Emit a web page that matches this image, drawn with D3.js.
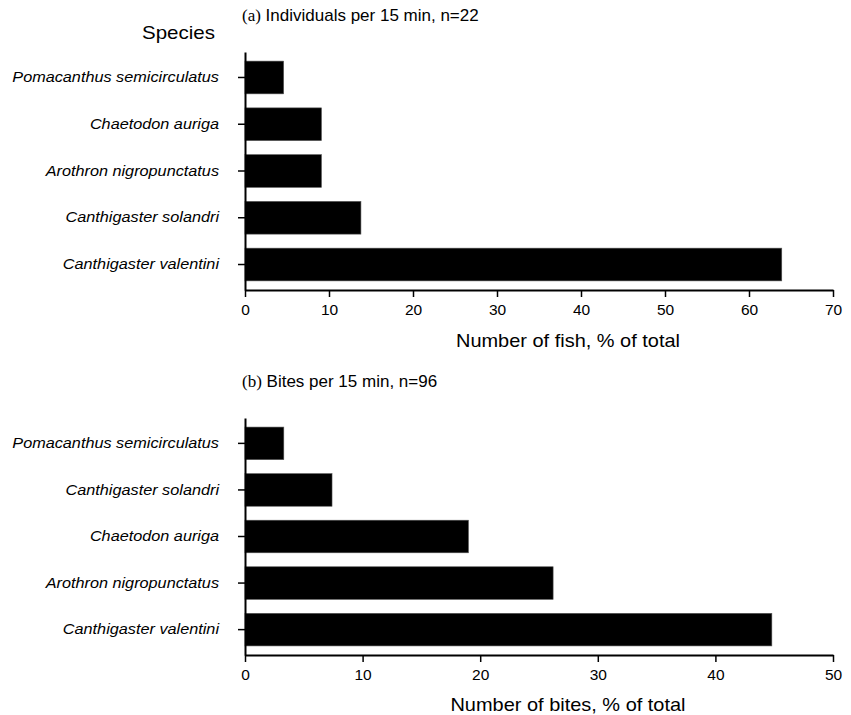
<!DOCTYPE html>
<html>
<head>
<meta charset="utf-8">
<script src="https://cdn.jsdelivr.net/npm/d3@7"></script>
<style>
  html, body { margin: 0; padding: 0; background: #fff; }
  svg { display: block; }
  text { font-family: "Liberation Sans", Arial, sans-serif; fill: #000; }
</style>
</head>
<body>
<svg id="chart" width="851" height="715"></svg>
<script>
// ---- Data ----
const speciesA = ["Pomacanthus semicirculatus", "Chaetodon auriga", "Arothron nigropunctatus", "Canthigaster solandri", "Canthigaster valentini"];
const valuesA = [4.6, 9.1, 9.1, 13.8, 63.9];
const ticksA = [0, 10, 20, 30, 40, 50, 60, 70];

const speciesB = ["Pomacanthus semicirculatus", "Canthigaster solandri", "Chaetodon auriga", "Arothron nigropunctatus", "Canthigaster valentini"];
const valuesB = [3.3, 7.4, 19.0, 26.2, 44.8];
const ticksB = [0, 10, 20, 30, 40, 50];

const titleA = ["(a)", " Individuals per 15 min, n=22"];
const titleB = ["(b)", " Bites per 15 min, n=96"];
const xTitleA = "Number of fish, % of total";
const xTitleB = "Number of bites, % of total";
const yTitle = "Species";

const svg = d3.select("#chart");

// the reference typeface is slightly wider than Liberation Sans: stretch glyphs a little
function stretch(sel, f) {
  sel.each(function () {
    const w = this.getComputedTextLength();
    d3.select(this).attr("textLength", w * f).attr("lengthAdjust", "spacingAndGlyphs");
  });
}

function panel(cfg) {
  const x = d3.scaleLinear().domain([0, cfg.max]).range([245, 833]);
  const y = d3.scaleBand().domain(cfg.cats).range([cfg.top, cfg.bottom])
    .paddingInner(0.3).paddingOuter(0.195);
  const g = svg.append("g");

  g.selectAll("rect.bar").data(cfg.vals).enter().append("rect")
    .attr("class", "bar")
    .attr("x", x(0))
    .attr("y", (d, i) => y(cfg.cats[i]))
    .attr("width", d => x(d) - x(0))
    .attr("height", y.bandwidth())
    .attr("fill", "#000")
    .attr("stroke", "#555")
    .attr("stroke-width", 0.6);

  const xa = g.append("g").attr("transform", `translate(0,${cfg.bottom})`)
    .call(d3.axisBottom(x).tickValues(cfg.ticks).tickSize(7).tickSizeOuter(0).tickPadding(7));
  xa.select(".domain").attr("stroke", "#000").attr("stroke-width", 2);
  xa.selectAll(".tick line").attr("stroke", "#000").attr("stroke-width", 1.5);
  xa.selectAll("text").style("font-size", "15.5px").style("font-family", "Liberation Sans, Arial, sans-serif");

  const ya = g.append("g").attr("transform", `translate(${x(0)},0)`)
    .call(d3.axisLeft(y).tickSize(7).tickSizeOuter(0).tickPadding(19));
  ya.select(".domain").attr("stroke", "#000").attr("stroke-width", 2);
  ya.selectAll(".tick line").attr("stroke", "#000").attr("stroke-width", 1.5);
  const yl = ya.selectAll("text").style("font-size", "14.5px").style("font-style", "italic")
    .style("font-family", "Liberation Sans, Arial, sans-serif");
  stretch(yl, 1.12);

  const t = g.append("text").attr("x", 242).attr("y", cfg.titleY).style("font-size", "17px");
  t.append("tspan").text(cfg.title[0]).style("font-family", "Liberation Serif, Times New Roman, serif");
  t.append("tspan").text(cfg.title[1]);

  const xt = g.append("text").attr("x", 568).attr("y", cfg.xTitleY)
    .attr("text-anchor", "middle").style("font-size", "19px").text(cfg.xTitle);
  stretch(xt, 1.05);
}

panel({ cats: speciesA, vals: valuesA, ticks: ticksA, max: 70, top: 52, bottom: 290,
        title: titleA, titleY: 21, xTitle: xTitleA, xTitleY: 347 });
panel({ cats: speciesB, vals: valuesB, ticks: ticksB, max: 50, top: 418, bottom: 655,
        title: titleB, titleY: 387, xTitle: xTitleB, xTitleY: 711 });

const sp = svg.append("text").attr("x", 215).attr("y", 39).attr("text-anchor", "end")
  .style("font-size", "19px").text(yTitle);
stretch(sp, 1.08);
</script>
</body>
</html>
